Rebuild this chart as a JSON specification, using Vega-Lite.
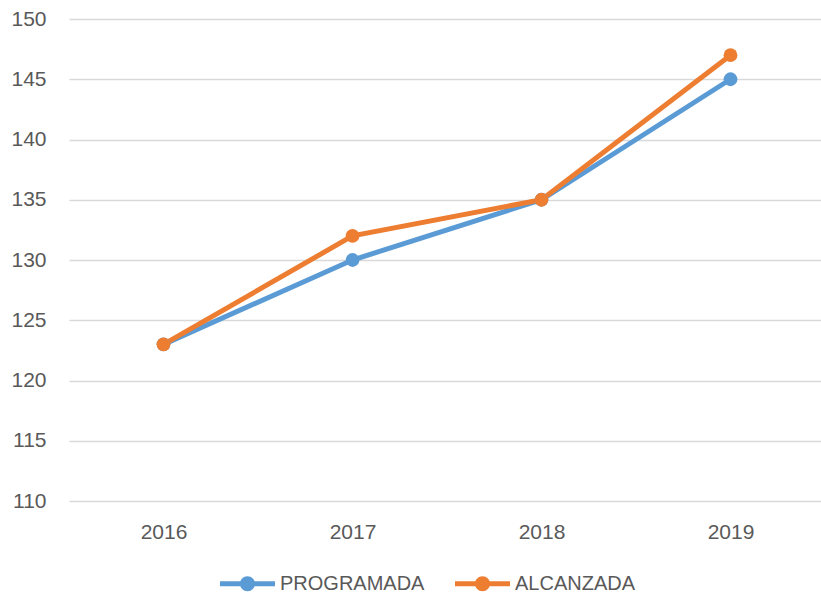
{
  "$schema": "https://vega.github.io/schema/vega-lite/v6.json",
  "autosize": "none",
  "width": 756,
  "height": 482,
  "padding": {"left": 69, "top": 19, "right": 0, "bottom": 95},
  "background": "white",
  "config": {
    "view": {"stroke": null},
    "font": "Liberation Sans"
  },
  "data": {
    "values": [
      {"year": "2016", "series": "PROGRAMADA", "value": 123},
      {"year": "2017", "series": "PROGRAMADA", "value": 130},
      {"year": "2018", "series": "PROGRAMADA", "value": 135},
      {"year": "2019", "series": "PROGRAMADA", "value": 145},
      {"year": "2016", "series": "ALCANZADA", "value": 123},
      {"year": "2017", "series": "ALCANZADA", "value": 132},
      {"year": "2018", "series": "ALCANZADA", "value": 135},
      {"year": "2019", "series": "ALCANZADA", "value": 147}
    ]
  },
  "mark": {"type": "line", "strokeWidth": 5, "point": {"filled": true, "size": 190, "opacity": 1}},
  "encoding": {
    "x": {
      "field": "year", "type": "ordinal",
      "scale": {"type": "point", "padding": 0.5},
      "axis": {"title": null, "labelAngle": 0, "domain": false, "ticks": false, "grid": false,
               "labelFontSize": 21, "labelColor": "#595959", "labelPadding": 20}
    },
    "y": {
      "field": "value", "type": "quantitative",
      "scale": {"domain": [110, 150], "nice": false, "zero": false},
      "axis": {"title": null, "values": [110, 115, 120, 125, 130, 135, 140, 145, 150],
               "domain": false, "ticks": false, "gridColor": "#D9D9D9", "gridWidth": 1.5,
               "labelFontSize": 21, "labelColor": "#595959", "labelPadding": 23}
    },
    "color": {
      "field": "series", "type": "nominal",
      "scale": {"domain": ["PROGRAMADA", "ALCANZADA"], "range": ["#5B9BD5", "#ED7D31"]},
      "legend": {
        "title": null, "orient": "none", "direction": "horizontal",
        "legendX": 151, "legendY": 537,
        "symbolType": "M -1 -0.09 H 1 V 0.09 H -1 Z M 0 -0.273 A 0.273 0.273 0 1 1 0 0.273 A 0.273 0.273 0 1 1 0 -0.273 Z",
        "symbolSize": 3025, "symbolStrokeWidth": 0, "symbolOpacity": 1,
        "labelFontSize": 20, "labelColor": "#595959", "labelOffset": 5,
        "columnPadding": 30
      }
    }
  }
}
